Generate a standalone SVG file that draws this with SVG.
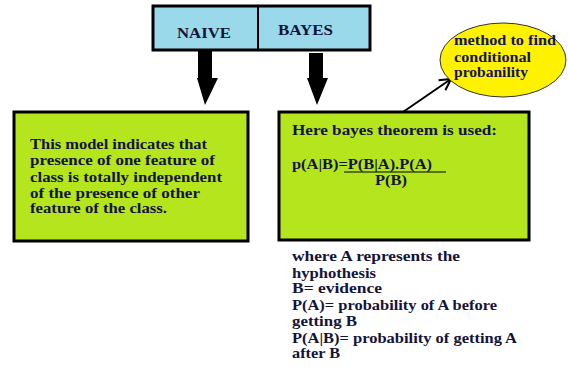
<svg xmlns="http://www.w3.org/2000/svg" width="568" height="367" viewBox="0 0 568 367">
<defs>
<style>
.t{font-family:"Liberation Serif","Times New Roman",serif;font-weight:bold;font-size:14.5px;fill:#14143a}
.h{font-size:15.5px}
.m{fill:#14145a}
.box{stroke:#000;stroke-width:3}
.green{fill:#b5e61d}
.blue{fill:#99d9ea}
</style>
<marker id="open" markerWidth="14" markerHeight="14" refX="12" refY="7" orient="auto" markerUnits="userSpaceOnUse">
<path d="M1,1 L12,7 L1,13" fill="none" stroke="#000" stroke-width="2"/>
</marker>
</defs>
<rect width="568" height="367" fill="#fff"/>
<g id="header">
<rect class="box blue" x="153" y="6" width="217" height="44"/>
<line x1="258" y1="6" x2="258" y2="51" stroke="#000" stroke-width="2"/>
<text class="t h" x="177" y="38" textLength="54" lengthAdjust="spacingAndGlyphs">NAIVE</text>
<text class="t h" x="278" y="35" textLength="55" lengthAdjust="spacingAndGlyphs">BAYES</text>
</g>
<g id="connectors">
<polygon points="198,50 212,50 212,78 218,78 205,105 197,78 198,78" fill="#000"/>
<polygon points="309,53 323,53 323,78 328,78 317,105 307,78 309,78" fill="#000"/>
<line x1="403" y1="112" x2="451" y2="79" stroke="#000" stroke-width="2" marker-end="url(#open)"/>
</g>
<g id="naive-box">
<rect class="box green" x="14" y="112" width="234" height="129"/>
<text class="t" x="30" y="149" textLength="177" lengthAdjust="spacingAndGlyphs">This model indicates that</text>
<text class="t" x="30" y="165" textLength="185" lengthAdjust="spacingAndGlyphs">presence of one feature of</text>
<text class="t" x="30" y="182" textLength="192" lengthAdjust="spacingAndGlyphs">class is totally independent</text>
<text class="t" x="30" y="198" textLength="170" lengthAdjust="spacingAndGlyphs">of the presence of other</text>
<text class="t" x="30" y="213" textLength="137" lengthAdjust="spacingAndGlyphs">feature of the class.</text>
</g>
<g id="bayes-box">
<rect class="box green" x="279" y="112" width="250" height="128"/>
<text class="t" x="292" y="135" textLength="205" lengthAdjust="spacingAndGlyphs">Here bayes theorem is used:</text>
<text class="t" x="292" y="169" textLength="140" lengthAdjust="spacingAndGlyphs">p(A|B)=P(B|A).P(A)</text>
<line x1="344" y1="172" x2="446" y2="172" stroke="#000" stroke-width="1.2"/>
<text class="t" x="375" y="185" textLength="32" lengthAdjust="spacingAndGlyphs">P(B)</text>
</g>
<g id="method">
<ellipse cx="503" cy="60" rx="63" ry="37" fill="#fff200" stroke="#333" stroke-width="1"/>
<text class="t m" x="454" y="45" textLength="102" lengthAdjust="spacingAndGlyphs">method to find</text>
<text class="t m" x="454" y="62" textLength="77" lengthAdjust="spacingAndGlyphs">conditional</text>
<text class="t m" x="454" y="77" textLength="74" lengthAdjust="spacingAndGlyphs">probanility</text>
</g>
<g id="notes">
<text class="t" x="292" y="261" textLength="168" lengthAdjust="spacingAndGlyphs">where A represents the</text>
<text class="t" x="292" y="278" textLength="84" lengthAdjust="spacingAndGlyphs">hyphothesis</text>
<text class="t" x="292" y="293" textLength="90" lengthAdjust="spacingAndGlyphs">B= evidence</text>
<text class="t" x="292" y="310" textLength="205" lengthAdjust="spacingAndGlyphs">P(A)= probability of A before</text>
<text class="t" x="292" y="326" textLength="65" lengthAdjust="spacingAndGlyphs">getting B</text>
<text class="t" x="292" y="343" textLength="225" lengthAdjust="spacingAndGlyphs">P(A|B)= probability of getting A</text>
<text class="t" x="292" y="358" textLength="48" lengthAdjust="spacingAndGlyphs">after B</text>
</g>
</svg>
